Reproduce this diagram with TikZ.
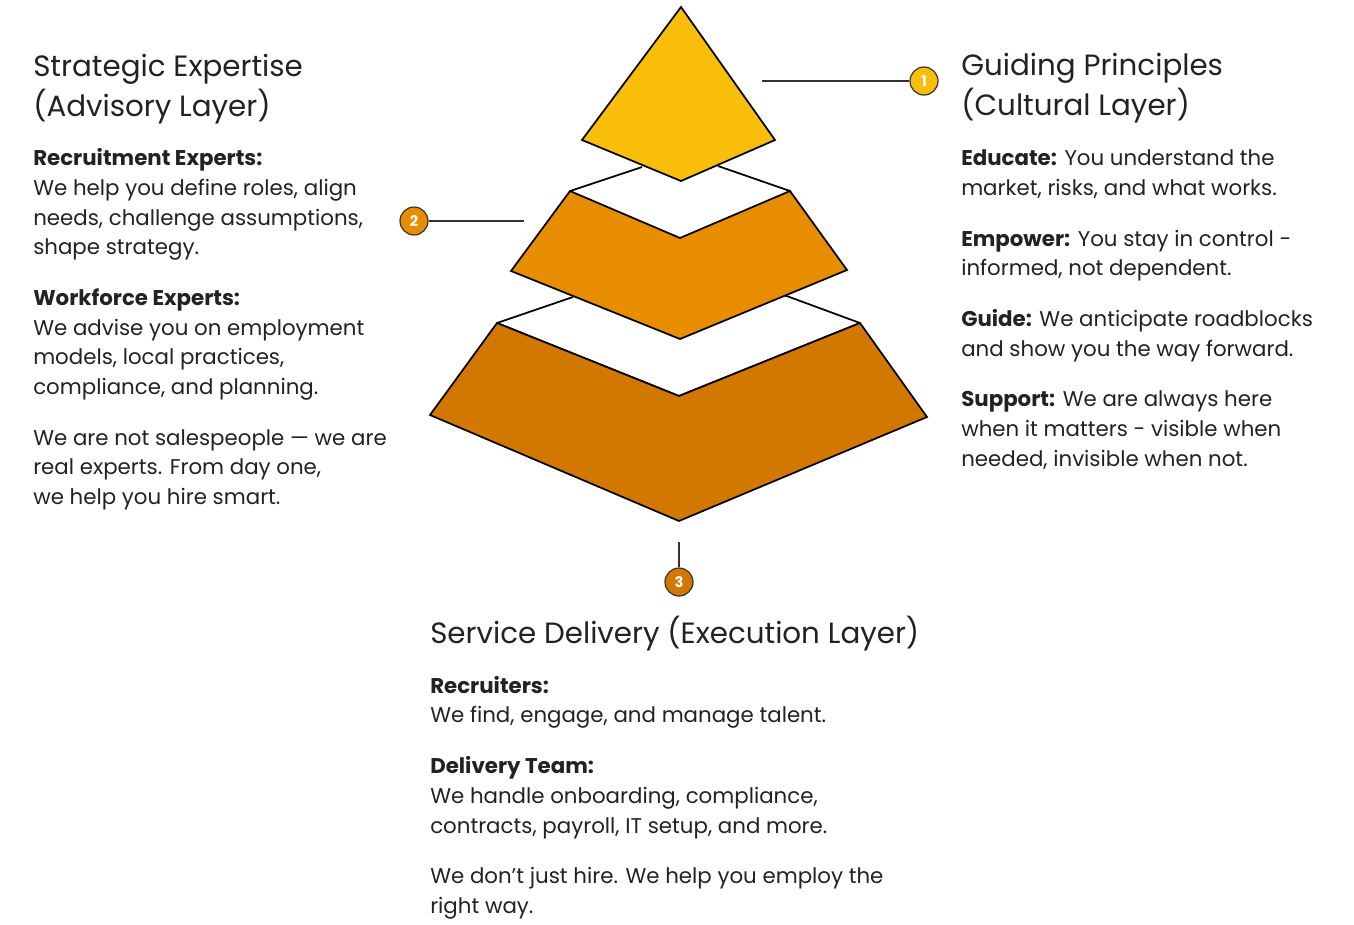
\documentclass[tikz,border=0pt]{standalone}
\usepackage{fontspec}
\setmainfont{Poppins}
\definecolor{gold}{HTML}{F9BE0A}
\definecolor{mid}{HTML}{E88C00}
\definecolor{low}{HTML}{D27800}
\definecolor{ink}{HTML}{222222}
\tikzset{
 face/.style={draw=black,line width=1.3pt,line join=miter},
 lead/.style={draw=black!80,line width=0.8pt},
 badge/.style={circle,draw=black!80,line width=0.9pt,minimum size=21pt,inner sep=0pt,text=white,font=\bfseries\fontsize{11}{11}\selectfont},
 ttl/.style={anchor=base west,inner sep=0pt,text=ink,font=\fontsize{22}{22}\selectfont},
 bd/.style={anchor=base west,inner sep=0pt,text=ink,font=\fontsize{16}{16}\selectfont},
}
\newcommand{\Ln}[3]{\node[bd] at (#1,#2) {#3};}
\newcommand{\Tl}[3]{\node[ttl] at (#1,#2) {#3};}
\begin{document}
\begin{tikzpicture}[x=0.75pt,y=-0.75pt]
\useasboundingbox (0,0) rectangle (1354,925);
% bottom layer
\draw[face] (573,297) -- (497,323);
\draw[face] (784,295) -- (860,323);
\draw[face,fill=white] (497,323) -- (679,396) -- (860,323);
\draw[face,fill=low] (497,323) -- (679,396) -- (860,323) -- (927,417) -- (679,521) -- (430,415) -- cycle;
% middle layer
\draw[face] (642,167) -- (570,191);
\draw[face] (718,166) -- (790,191);
\draw[face,fill=mid] (570,191) -- (680,238) -- (790,191) -- (847,270) -- (680,339) -- (511,271) -- cycle;
% top
\draw[face,fill=gold] (681,7) -- (775,140) -- (681,181) -- (582,140) -- cycle;
% badges
\node[badge,fill=gold] (b1) at (924,81) {1};
\node[badge,fill=mid] (b2) at (414,221) {2};
\node[badge,fill=low] (b3) at (679,582) {3};
\coordinate (c1) at (762,81);
\coordinate (c2) at (524,221);
\coordinate (c3) at (679,542);
\draw[lead] (c1) -- (b1);
\draw[lead] (b2) -- (c2);
\draw[lead] (c3) -- (b3);
% left text
\Tl{33}{76}{Strategic Expertise}
\Tl{33}{116}{(Advisory Layer)}
\Ln{33}{165}{\textbf{Recruitment Experts:}}
\Ln{33}{195}{We help you define roles, align}
\Ln{33}{225}{needs, challenge assumptions,}
\Ln{33}{254}{shape strategy.}
\Ln{33}{305}{\textbf{Workforce Experts:}}
\Ln{33}{335}{We advise you on employment}
\Ln{33}{364}{models, local practices,}
\Ln{33}{394}{compliance, and planning.}
\Ln{33}{445}{We are not salespeople — we are}
\Ln{33}{474}{real experts. From day one,}
\Ln{33}{504}{we help you hire smart.}
% right text
\Tl{961}{75}{Guiding Principles}
\Tl{961}{115}{(Cultural Layer)}
\Ln{961}{165}{\textbf{Educate:} You understand the}
\Ln{961}{195}{market, risks, and what works.}
\Ln{961}{246}{\textbf{Empower:} You stay in control -}
\Ln{961}{275}{informed, not dependent.}
\Ln{961}{326}{\textbf{Guide:} We anticipate roadblocks}
\Ln{961}{356}{and show you the way forward.}
\Ln{961}{406}{\textbf{Support:} We are always here}
\Ln{961}{436}{when it matters - visible when}
\Ln{961}{466}{needed, invisible when not.}
% bottom text
\Tl{430}{643}{Service Delivery (Execution Layer)}
\Ln{430}{693}{\textbf{Recruiters:}}
\Ln{430}{722}{We find, engage, and manage talent.}
\Ln{430}{773}{\textbf{Delivery Team:}}
\Ln{430}{803}{We handle onboarding, compliance,}
\Ln{430}{833}{contracts, payroll, IT setup, and more.}
\Ln{430}{883}{We don’t just hire. We help you employ the}
\Ln{430}{913}{right way.}
\end{tikzpicture}
\end{document}
